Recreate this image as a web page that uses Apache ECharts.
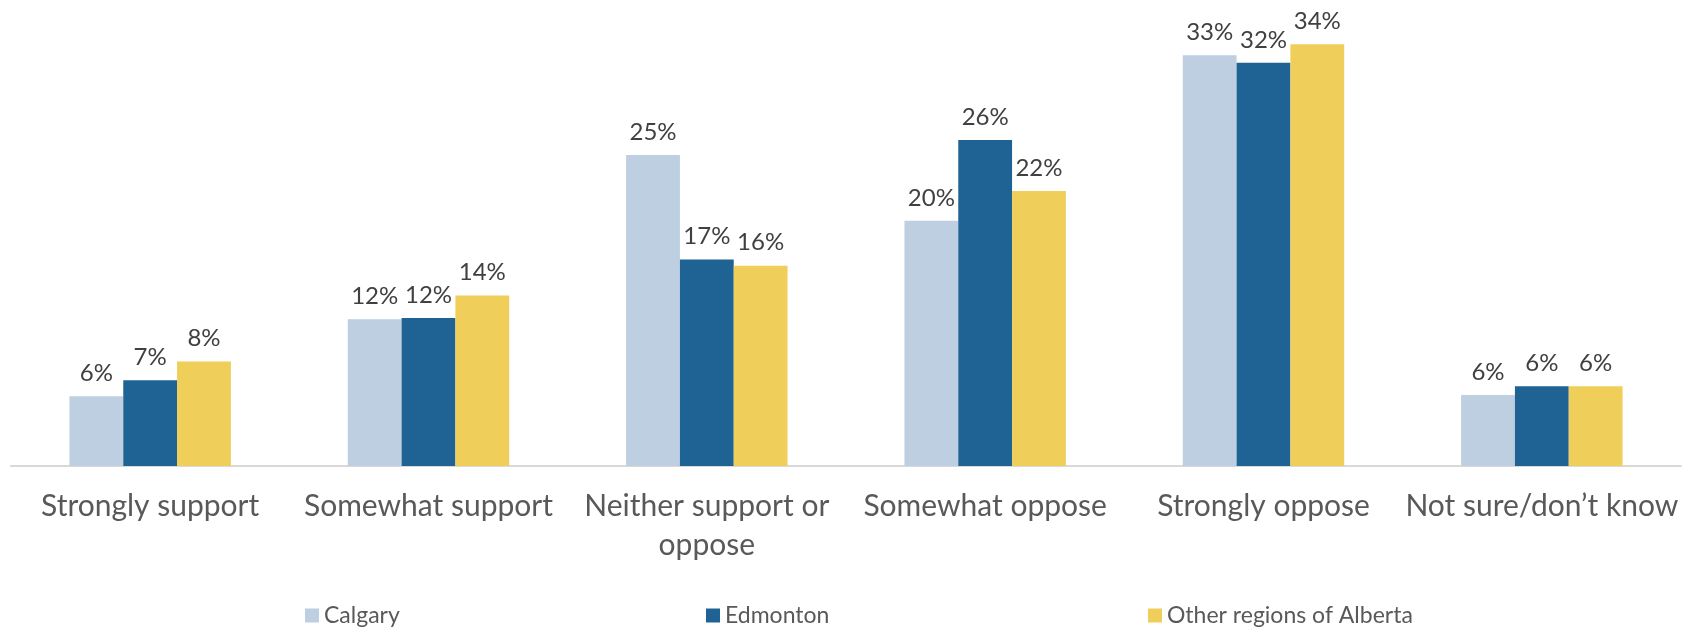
<!DOCTYPE html>
<html>
<head>
<meta charset="utf-8">
<script src="https://cdn.jsdelivr.net/npm/echarts@6/dist/echarts.min.js"></script>
<style>
html,body{margin:0;padding:0;background:#fff;}
#chart{width:1691px;height:629px;}
</style>
</head>
<body>
<div id="chart"></div>
<script>
const categories = ['Strongly support', 'Somewhat support', 'Neither support or\noppose', 'Somewhat oppose', 'Strongly oppose', 'Not sure/don\u2019t know'];
const seriesNames = ['Calgary', 'Edmonton', 'Other regions of Alberta'];
const calgary = [5.6, 11.8, 25.0, 19.7, 33.0, 5.7];
const edmonton = [6.9, 11.9, 16.6, 26.2, 32.4, 6.4];
const otherRegions = [8.4, 13.7, 16.1, 22.1, 33.9, 6.4];
const colors = ['#BDCFE0', '#1F6394', '#F0CE5A'];
const legendLeft = [300, 701, 1143];

const FONT = 'Lato';
const chart = echarts.init(document.getElementById('chart'));
const mk = (name, data, color) => ({
  name, type: 'bar', data,
  barGap: 0, barCategoryGap: '42%',
  itemStyle: { color },
  label: {
    show: true, position: 'top', distance: 11,
    color: '#404040', fontFamily: FONT, fontSize: 24,
    formatter: p => Math.round(p.value) + '%'
  }
});
chart.setOption({
  animation: false,
  textStyle: { fontFamily: FONT },
  legend: seriesNames.map((n, i) => ({
    data: [n], left: legendLeft[i], top: 599,
    itemWidth: 14, itemHeight: 14,
    icon: 'rect',
    textStyle: { color: '#595959', fontSize: 23, fontFamily: FONT }
  })),
  grid: { left: 11, right: 10, top: 18, bottom: 163, containLabel: false },
  xAxis: {
    type: 'category', data: categories,
    axisLine: { lineStyle: { color: '#D9D9D9', width: 2 } },
    axisTick: { show: false },
    axisLabel: { color: '#595959', fontSize: 30, fontFamily: FONT, margin: 21, lineHeight: 39, interval: 0 }
  },
  yAxis: {
    type: 'value', min: 0, max: 36,
    show: false, splitLine: { show: false }
  },
  series: [mk(seriesNames[0], calgary, colors[0]), mk(seriesNames[1], edmonton, colors[1]), mk(seriesNames[2], otherRegions, colors[2])]
});
</script>
</body>
</html>
